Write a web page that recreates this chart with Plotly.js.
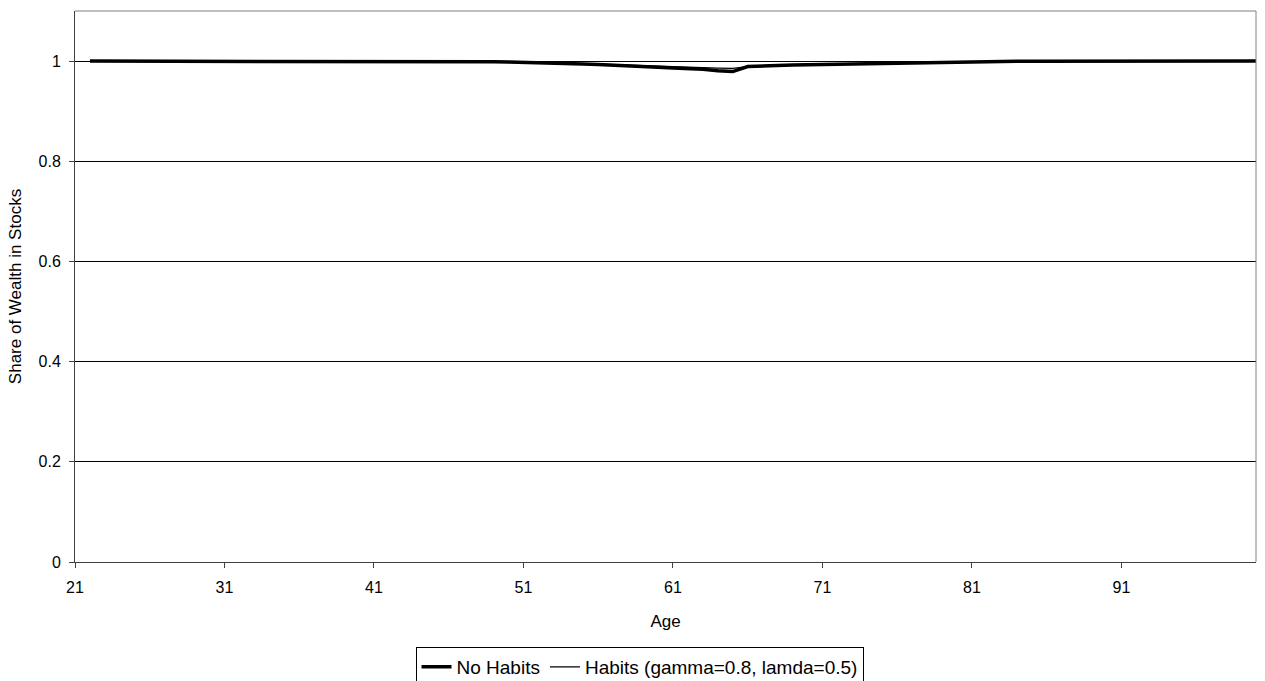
<!DOCTYPE html>
<html>
<head>
<meta charset="utf-8">
<script src="https://cdn.plot.ly/plotly-3.0.1.min.js"></script>
<style>html,body{margin:0;padding:0;background:#fff;}#chart{width:1265px;height:681px;}</style>
</head>
<body>
<div id="chart"></div>
<script>
var ages = [];
for (var a = 22; a <= 100; a++) ages.push(a);

// Share of wealth in stocks, ages 22..100
var noHabits = [
  1,1,1,1,1,1,1,1,1,1,           // 22-31
  1,1,1,1,1,1,1,1,1,1,           // 32-41
  1,1,1,1,1,                     // 42-46
  0.9995,0.999,0.9985,0.998,     // 47-50
  0.9975,0.997,0.996,0.995,0.994,// 51-55
  0.993,0.992,0.9905,0.989,0.9875,// 56-60
  0.986,0.985,0.9835,0.9805,0.979,// 61-65
  0.989,0.9905,0.991,0.992,0.9925,// 66-70
  0.993,0.994,0.9945,0.995,0.996,// 71-75
  0.9965,0.997,0.998,0.9985,0.999,// 76-80
  0.9995,0.9995,0.9995,0.9995,0.9995,0.9995, // 81-86
  1,1,1,1,1,1,1,1,1,1,1,1,1,1    // 87-100
];
var habits = [
  1,1,1,1,1,1,1,1,1,1,
  1,1,1,1,1,1,1,1,1,1,
  1,1,1,1,1,
  0.9995,0.999,0.9985,0.998,
  0.9975,0.997,0.9963,0.9955,0.9947,
  0.994,0.9932,0.9922,0.991,0.990,
  0.9893,0.9885,0.9875,0.986,0.9855,
  0.989,0.9905,0.991,0.992,0.9925,
  0.993,0.994,0.9945,0.995,0.996,
  0.9965,0.997,0.998,0.9985,0.999,
  0.9995,0.9995,0.9995,0.9995,0.9995,0.9995,
  1,1,1,1,1,1,1,1,1,1,1,1,1,1
];
var xTicks = [21,31,41,51,61,71,81,91];
var yTicks = [0,0.2,0.4,0.6,0.8,1];
var yTickText = ['0','0.2','0.4','0.6','0.8','1'];

var traces = [
  {x: ages, y: noHabits, mode: 'lines', name: 'No Habits',
   line: {color: '#000000', width: 3.5}},
  {x: ages, y: habits, mode: 'lines', name: 'Habits (gamma=0.8, lamda=0.5)',
   line: {color: '#000000', width: 1.2}}
];

var FAM = 'Liberation Sans, Arial, sans-serif';
var tickFont = {family: FAM, size: 16, color: '#000'};
var titleFont = {family: FAM, size: 17, color: '#000'};

var layout = {
  width: 1265, height: 681,
  margin: {l: 75, r: 9, t: 11, b: 119, autoexpand: false},
  paper_bgcolor: '#fff', plot_bgcolor: '#fff',
  font: tickFont,
  showlegend: true,
  legend: {
    orientation: 'h', x: 0.478, xanchor: 'center', y: -0.1543, yanchor: 'top',
    bordercolor: '#000', borderwidth: 1, bgcolor: '#fff',
    font: {family: FAM, size: 19, color: '#000'},
    itemwidth: 30, tracegroupgap: 0, itemclick: false
  },
  xaxis: {
    range: [21, 100], tickvals: xTicks, ticktext: xTicks.map(String),
    showgrid: false, zeroline: false,
    showline: true, linecolor: '#404040', linewidth: 1,
    ticks: 'outside', ticklen: 5, tickcolor: '#404040',
    ticklabelstandoff: 6,
    tickfont: tickFont,
    title: {text: 'Age', font: titleFont, standoff: 19}
  },
  yaxis: {
    range: [0, 1.1], tickvals: yTicks, ticktext: yTickText,
    showgrid: true, gridcolor: '#000', gridwidth: 1,
    zeroline: false,
    showline: true, linecolor: '#404040', linewidth: 1,
    ticks: 'outside', ticklen: 5, tickcolor: '#404040',
    ticklabelstandoff: 5,
    tickfont: tickFont,
    title: {text: 'Share of Wealth in Stocks', font: titleFont, standoff: 12}
  },
  shapes: [
    {type: 'line', xref: 'paper', yref: 'paper', x0: 0, x1: 1, y0: 1, y1: 1, line: {color: '#808080', width: 1}},
    {type: 'line', xref: 'paper', yref: 'paper', x0: 1, x1: 1, y0: 0, y1: 1, line: {color: '#808080', width: 1}}
  ]
};

Plotly.newPlot('chart', traces, layout, {displayModeBar: false, staticPlot: true});
</script>
</body>
</html>
